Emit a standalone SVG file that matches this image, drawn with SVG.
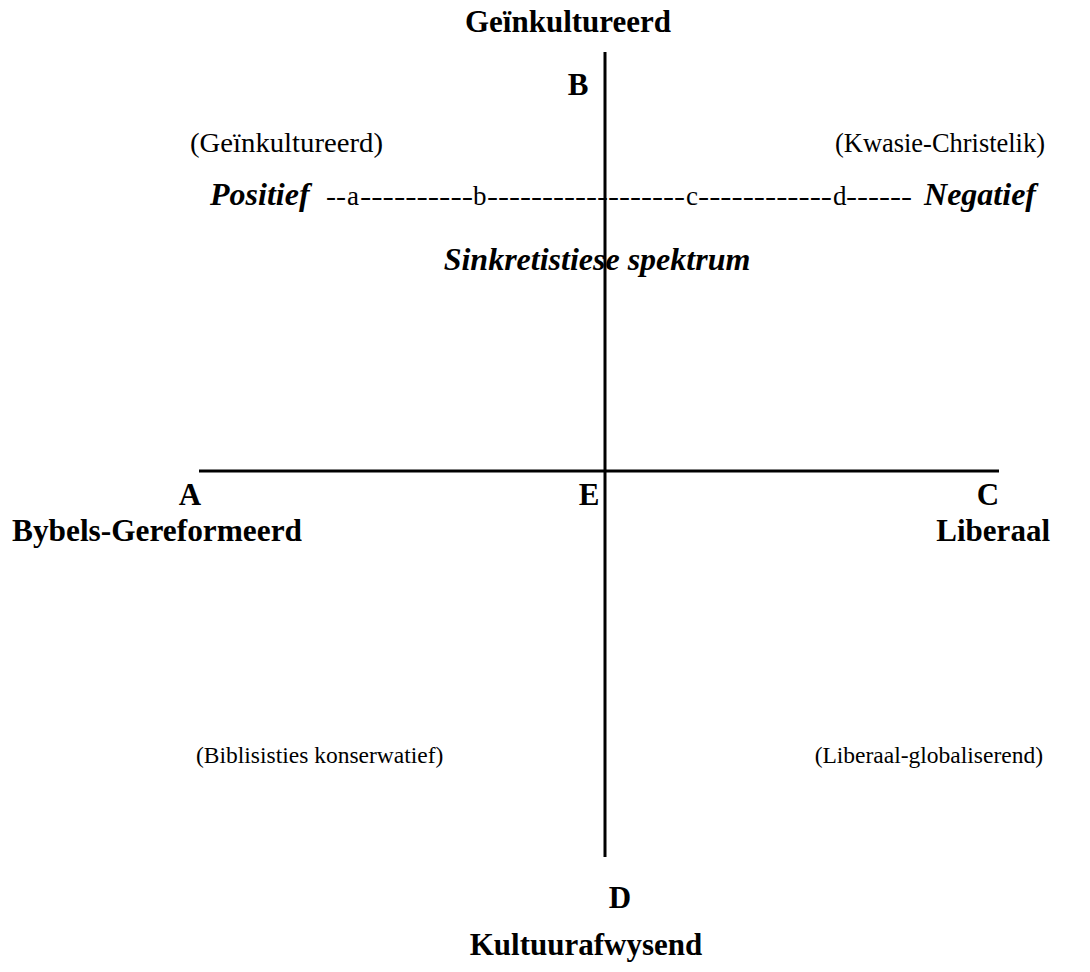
<svg xmlns="http://www.w3.org/2000/svg" width="1090" height="972" viewBox="0 0 1090 972">
<style>
text{font-family:"Liberation Serif","Times New Roman",serif;fill:#000}
.b{font-weight:bold;font-size:31px}
.r{font-size:27px}
.rs{font-size:23.5px}
.bi{font-weight:bold;font-style:italic;font-size:32px}
.ax{stroke:#000;stroke-width:3;fill:none}
</style>
<rect width="1090" height="972" fill="#fff"/>
<g id="connectors">
<line class="ax" x1="605" y1="52" x2="605" y2="857"/>
<line class="ax" x1="199" y1="471" x2="999" y2="471"/>
</g>
<g id="pole-B"><text class="b" x="568" y="32" text-anchor="middle">Geïnkultureerd</text><text class="b" x="578" y="95" text-anchor="middle">B</text></g>
<g id="pole-D"><text class="b" x="620" y="908" text-anchor="middle">D</text><text class="b" x="586" y="955" text-anchor="middle">Kultuurafwysend</text></g>
<g id="pole-A"><text class="b" x="190" y="505" text-anchor="middle">A</text><text class="b" x="12" y="541" textLength="290" lengthAdjust="spacingAndGlyphs">Bybels-Gereformeerd</text></g>
<g id="pole-C"><text class="b" x="988" y="505" text-anchor="middle">C</text><text class="b" x="1050" y="541" text-anchor="end">Liberaal</text></g>
<g id="center-E"><text class="b" x="589" y="505" text-anchor="middle">E</text></g>
<g id="quadrant-labels">
<text class="r" x="190" y="152" textLength="193" lengthAdjust="spacingAndGlyphs">(Geïnkultureerd)</text>
<text class="r" x="835" y="152" textLength="210" lengthAdjust="spacingAndGlyphs">(Kwasie-Christelik)</text>
<text class="rs" x="196" y="763">(Biblisisties konserwatief)</text>
<text class="rs" x="1043" y="763" text-anchor="end">(Liberaal-globaliserend)</text>
</g>
<g id="spectrum">
<text class="bi" x="210" y="205">Positief</text>
<text class="r" x="326" y="205" textLength="20" lengthAdjust="spacingAndGlyphs">--</text>
<text class="r" x="347" y="205">a</text>
<text class="r" x="360" y="205" textLength="113" lengthAdjust="spacingAndGlyphs">----------</text>
<text class="r" x="473" y="205">b</text>
<text class="r" x="487" y="205" textLength="198" lengthAdjust="spacingAndGlyphs">------------------</text>
<text class="r" x="686" y="205">c</text>
<text class="r" x="698" y="205" textLength="134" lengthAdjust="spacingAndGlyphs">------------</text>
<text class="r" x="833" y="205">d</text>
<text class="r" x="846" y="205" textLength="66" lengthAdjust="spacingAndGlyphs">------</text>
<text class="bi" x="1036" y="205" text-anchor="end">Negatief</text>
<text class="bi" x="597" y="270" text-anchor="middle">Sinkretistiese spektrum</text>
</g>
</svg>
